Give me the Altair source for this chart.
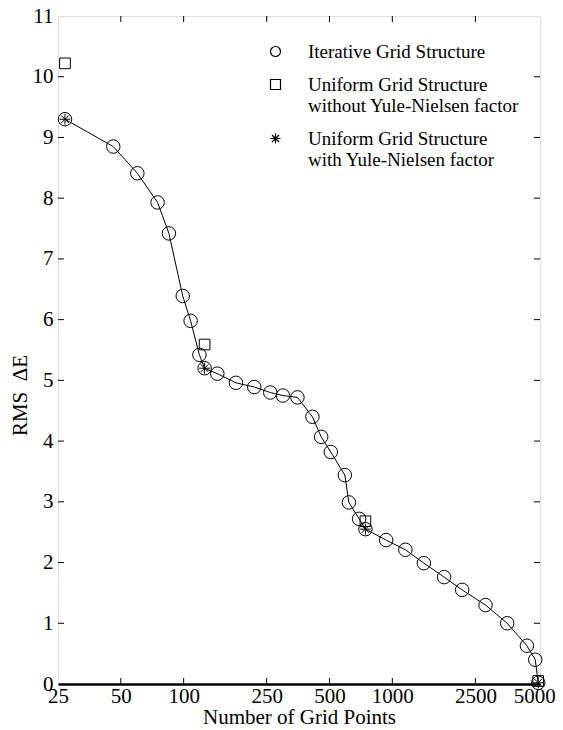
import altair as alt
import pandas as pd

# ---- data ----
iter_x = [27, 46, 60, 75, 85, 99, 108, 119, 126, 145, 178, 218, 260, 299, 351,
          414, 456, 507, 592, 619, 693, 743, 934, 1155, 1416, 1771, 2160, 2796,
          3551, 4415, 4840, 5000]
iter_y = [9.30, 8.85, 8.41, 7.93, 7.42, 6.39, 5.98, 5.42, 5.20, 5.11, 4.96, 4.89,
          4.80, 4.75, 4.72, 4.40, 4.07, 3.82, 3.44, 2.99, 2.72, 2.55, 2.37, 2.21,
          1.99, 1.76, 1.55, 1.30, 1.00, 0.63, 0.40, 0.02]
unif_x = [27, 126, 743, 5000]
unif_noyn_y = [10.22, 5.59, 2.68, 0.05]
unif_yn_y = [9.30, 5.20, 2.55, 0.02]
x_ticks = [25, 50, 100, 250, 500, 1000, 2500, 5000]
y_ticks = list(range(0, 12))

S_ITER = "Iterative Grid Structure"
S_NOYN = "Uniform Grid Structure|without Yule-Nielsen factor"
S_YN = "Uniform Grid Structure|with Yule-Nielsen factor"
STAR = "M0,-1L0,1M-1,0L1,0M-0.7,-0.7L0.7,0.7M-0.7,0.7L0.7,-0.7"
FONT = "Liberation Serif"

iter_df = pd.DataFrame({"x": iter_x, "y": iter_y, "s": S_ITER})
noyn_df = pd.DataFrame({"x": unif_x, "y": unif_noyn_y, "s": S_NOYN})
yn_df = pd.DataFrame({"x": unif_x, "y": unif_yn_y, "s": S_YN})
xt_df = pd.DataFrame({"x": x_ticks[1:-1]})
yt_df = pd.DataFrame({"y": y_ticks[1:-1]})

W, H = 482, 668
xscale = alt.Scale(type="log", domain=[25, 5100], nice=False)
yscale = alt.Scale(domain=[0, 11], nice=False, zero=False)
shape_scale = alt.Scale(domain=[S_ITER, S_NOYN, S_YN], range=["circle", "square", STAR])

xaxis = alt.Axis(values=x_ticks, format="d", tickSize=0, labelPadding=1,
                 labelFont=FONT, labelFontSize=21, labelColor="black",
                 labelFlush=False, labelOverlap=False,
                 labelOffset={"condition": {"test": "datum.value >= 5000", "value": -4}, "value": 0},
                 title="Number of Grid Points", titleFont=FONT, titleFontSize=21,
                 titleFontWeight="normal", titleColor="black", titlePadding=0,
                 domain=True, domainColor="black", domainWidth=2.5, grid=False)
yaxis = alt.Axis(values=y_ticks, format="d", tickSize=0, labelPadding=5,
                 labelFont=FONT, labelFontSize=21, labelColor="black",
                 labelFlush=False, labelOverlap=False,
                 title="RMS\u00a0\u00a0\u0394E", titleFont=FONT, titleFontSize=21,
                 titleFontWeight="normal", titleColor="black", titlePadding=2,
                 titleY=379, domain=False, grid=False)

legend = alt.Legend(title=None, orient="none", legendX=208, legendY=26,
                    labelExpr="split(datum.label, '|')", labelFont=FONT,
                    labelFontSize=19, labelColor="black", labelLimit=400,
                    symbolSize=100, symbolStrokeColor="black",
                    symbolStrokeWidth=1.2, rowPadding=13, labelOffset=23)

line = alt.Chart(iter_df).mark_line(color="black", strokeWidth=1).encode(
    x=alt.X("x:Q", scale=xscale, axis=xaxis),
    y=alt.Y("y:Q", scale=yscale, axis=yaxis),
)

def pts(df, size, sw):
    return alt.Chart(df).mark_point(filled=False, color="black", size=size,
                                    strokeWidth=sw, opacity=1).encode(
        x=alt.X("x:Q", scale=xscale, axis=xaxis),
        y=alt.Y("y:Q", scale=yscale, axis=yaxis),
        shape=alt.Shape("s:N", scale=shape_scale, legend=legend),
    )

circ = pts(iter_df, 182, 1.0)
sq = pts(noyn_df, 114, 1.0)
st = pts(yn_df, 120, 1.0)

def xt(y1, y2):
    return alt.Chart(xt_df).mark_rule(color="black", strokeWidth=1).encode(
        x=alt.X("x:Q", scale=xscale, axis=xaxis), y=alt.value(y1), y2=alt.value(y2))

def yt(x1, x2):
    return alt.Chart(yt_df).mark_rule(color="black", strokeWidth=1).encode(
        y=alt.Y("y:Q", scale=yscale, axis=yaxis), x=alt.value(x1), x2=alt.value(x2))

chart = alt.layer(line, circ, sq, st, xt(H, H - 6), xt(0, 6), yt(0, 6), yt(W, W - 6)).properties(
    width=W, height=H, autosize="none",
    padding={"left": 50, "top": 8, "right": 15, "bottom": 46},
).configure_view(stroke="black", strokeWidth=1.5).configure(font=FONT, background="white")

chart.save("out.html", embed_options={"renderer": "svg", "actions": False})
